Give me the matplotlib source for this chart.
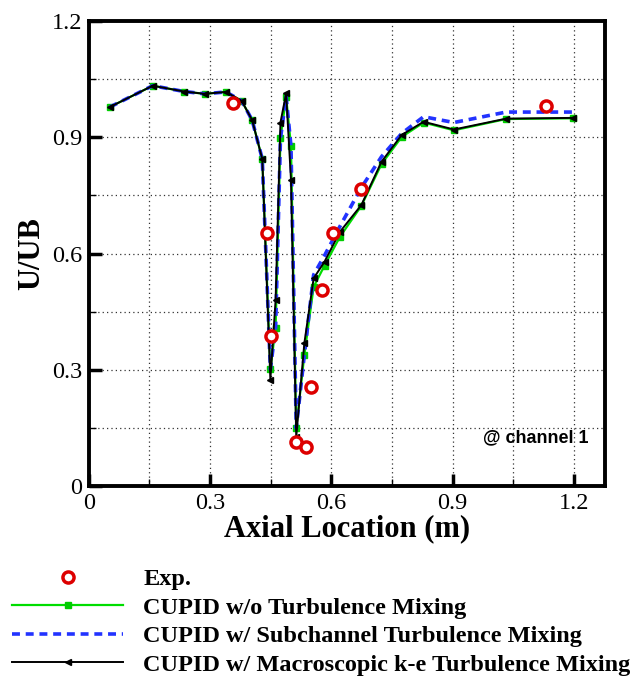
import matplotlib
matplotlib.use("Agg")
import matplotlib.pyplot as plt
from matplotlib.ticker import MultipleLocator

# ---- data ----
x_mesh = [0.052, 0.158, 0.236, 0.287, 0.339, 0.378, 0.404, 0.429, 0.449, 0.462,
          0.474, 0.488, 0.500, 0.513, 0.533, 0.556, 0.583, 0.621, 0.674, 0.724,
          0.774, 0.828, 0.903, 1.032, 1.197]
y_no_mix = [0.978, 1.033, 1.018, 1.012, 1.017, 0.994, 0.944, 0.844, 0.301, 0.409,
            0.897, 1.005, 0.877, 0.149, 0.338, 0.514, 0.569, 0.643, 0.723, 0.831,
            0.901, 0.938, 0.918, 0.947, 0.949]
y_subch = [0.978, 1.033, 1.018, 1.012, 1.017, 0.994, 0.944, 0.844, 0.301, 0.409,
           0.897, 1.005, 0.877, 0.149, 0.338, 0.545, 0.595, 0.670, 0.770, 0.850,
           0.910, 0.953, 0.938, 0.965, 0.965]
y_ke = [0.978, 1.033, 1.018, 1.012, 1.017, 0.994, 0.944, 0.844, 0.275, 0.480,
        0.938, 1.013, 0.791, 0.127, 0.368, 0.536, 0.579, 0.656, 0.725, 0.837,
        0.906, 0.940, 0.920, 0.948, 0.950]
x_exp = [0.357, 0.440, 0.450, 0.512, 0.537, 0.549, 0.576, 0.603, 0.673, 1.130]
y_exp = [0.988, 0.652, 0.388, 0.113, 0.100, 0.255, 0.506, 0.652, 0.766, 0.981]

labels = ["Exp.", "CUPID w/o Turbulence Mixing",
          "CUPID w/ Subchannel Turbulence Mixing",
          "CUPID w/ Macroscopic k-e Turbulence Mixing"]

serif = ["Liberation Serif", "DejaVu Serif"]

fig = plt.figure(figsize=(6.39, 6.77), dpi=100)
ax = fig.add_axes([0.139, 0.282, 0.808, 0.687])

h_exp, = ax.plot(x_exp, y_exp, linestyle="none", marker="o", markersize=8,
                 markerfacecolor="white", markeredgecolor="#dd0000",
                 markeredgewidth=2.5, zorder=6)
h_g, = ax.plot(x_mesh, y_no_mix, color="#00dd00", lw=1.6, marker="s",
               markersize=5, markerfacecolor="#00cc00", markeredgecolor="#00cc00", zorder=3)
h_b, = ax.plot(x_mesh, y_subch, color="#2233ff", lw=2.6, linestyle=(0, (2.2, 1.6)),
               zorder=4)
h_k, = ax.plot(x_mesh, y_ke, color="black", lw=1.4, marker="<", markersize=5,
               zorder=5)

ax.set_xlim(0, 1.277)
ax.set_ylim(0, 1.2)
ax.xaxis.set_major_locator(MultipleLocator(0.3))
ax.xaxis.set_minor_locator(MultipleLocator(0.15))
ax.yaxis.set_major_locator(MultipleLocator(0.3))
ax.yaxis.set_minor_locator(MultipleLocator(0.15))
fmt = plt.FuncFormatter(lambda v, p: "0" if abs(v) < 1e-9 else f"{v:.1f}")
ax.xaxis.set_major_formatter(fmt)
ax.yaxis.set_major_formatter(fmt)

ax.grid(which="both", color="#333333", linestyle=(0, (1, 2.5)), linewidth=0.9)
ax.tick_params(which="major", direction="in", length=9, width=2.5,
               top=False, right=False, labelsize=17.5, pad=5)
ax.tick_params(which="minor", direction="in", length=5, width=1,
               top=False, right=False)
for lab in ax.get_xticklabels() + ax.get_yticklabels():
    lab.set_family(serif)
for s in ax.spines.values():
    s.set_linewidth(2.8)

ax.set_xlabel("Axial Location (m)", fontsize=22, fontweight="bold",
              family=serif, labelpad=0)
ax.set_ylabel("U/UB", fontsize=22, fontweight="bold", family=serif, labelpad=4)

ax.text(0.967, 0.103, "@ channel 1", transform=ax.transAxes, ha="right",
        va="center", fontsize=13, fontweight="bold",
        family=["Liberation Sans", "DejaVu Sans"], zorder=7)

leg = fig.legend([h_exp, h_g, h_b, h_k], labels, loc="upper left",
                 bbox_to_anchor=(0.019, 0.161), frameon=False, numpoints=1,
                 handlelength=4.57, handletextpad=0.82, labelspacing=0.27,
                 prop={"family": serif, "weight": "bold", "size": 17.5},
                 borderaxespad=0, borderpad=0)

fig.savefig("out.png", dpi=100)
